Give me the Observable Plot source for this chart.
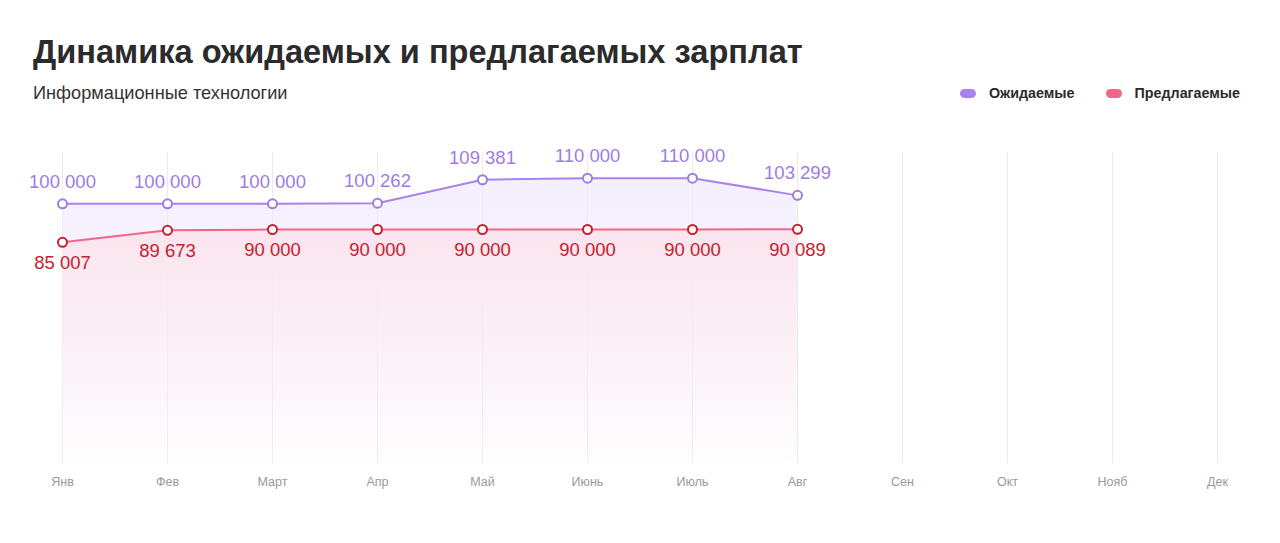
<!DOCTYPE html>
<html>
<head>
<meta charset="utf-8">
<script src="https://cdn.jsdelivr.net/npm/d3@7"></script>
<script src="https://cdn.jsdelivr.net/npm/@observablehq/plot@0.6"></script>
<style>
  html, body { margin: 0; padding: 0; background: #fff; width: 1280px; height: 543px; overflow: hidden; }
  body { position: relative; font-family: "Liberation Sans", Arial, Helvetica, sans-serif; }
  #title { position: absolute; left: 33px; top: 33px; font-size: 32.6px; line-height: 38px; font-weight: bold; color: #2b2b2b; white-space: nowrap; }
  #subtitle { position: absolute; left: 33px; top: 83px; font-size: 18.2px; line-height: 21px; color: #333; white-space: nowrap; }
  #legend { position: absolute; right: 40px; top: 84px; font-size: 14.3px; line-height: 18px; font-weight: bold; color: #2b2b2b; display: flex; gap: 0; white-space: nowrap; }
  .item { display: flex; align-items: center; margin-left: 31px; }
  .sw { display: inline-block; width: 16px; height: 9px; border-radius: 5px; margin-right: 13px; }
  #chart { position: absolute; left: 33px; top: 120px; }
  #chart svg { overflow: visible; }
</style>
</head>
<body>
<div id="title">Динамика ожидаемых и предлагаемых зарплат</div>
<div id="subtitle">Информационные технологии</div>
<div id="legend"></div>
<div id="chart"></div>
<script>
const months = ["Янв", "Фев", "Март", "Апр", "Май", "Июнь", "Июль", "Авг", "Сен", "Окт", "Нояб", "Дек"];
const expected = [100000, 100000, 100000, 100262, 109381, 110000, 110000, 103299];
const offered = [85007, 89673, 90000, 90000, 90000, 90000, 90000, 90089];
const seriesNames = ["Ожидаемые", "Предлагаемые"];
const lineColors = ["#a784ec", "#f0668a"];
const dotColors = ["#a07de6", "#c5202d"];
const labelColors = ["#9d7de3", "#c8202f"];

const fmt = v => d3.format(",")(v).replace(/,/g, " ");

const expData = expected.map((v, i) => ({month: months[i], value: v}));
const offData = offered.map((v, i) => ({month: months[i], value: v}));

// legend
const legend = document.getElementById("legend");
seriesNames.forEach((name, i) => {
  const it = document.createElement("div");
  it.className = "item";
  it.innerHTML = `<span class="sw" style="background:${lineColors[i]}"></span><span>${name}</span>`;
  legend.appendChild(it);
});

function defs() {
  const ns = "http://www.w3.org/2000/svg";
  const d = document.createElementNS(ns, "defs");
  const mk = (id, stops) => {
    const g = document.createElementNS(ns, "linearGradient");
    g.setAttribute("id", id);
    g.setAttribute("x1", "0"); g.setAttribute("y1", "0");
    g.setAttribute("x2", "0"); g.setAttribute("y2", "1");
    stops.forEach(([o, c, op]) => {
      const s = document.createElementNS(ns, "stop");
      s.setAttribute("offset", o);
      s.setAttribute("stop-color", c);
      s.setAttribute("stop-opacity", op);
      g.appendChild(s);
    });
    d.appendChild(g);
  };
  mk("gradPurple", [["0", "#efe8fc", 0.7], ["1", "#efe8fc", 0.0]]);
  mk("gradRed", [["0", "#fbe4ed", 1], ["1", "#fdf3f7", 0.2]]);
  return d;
}

const W = 1214, H = 400;
const chart = Plot.plot({
  width: W,
  height: H,
  marginLeft: 29,
  marginRight: 30,
  marginTop: 32,
  marginBottom: 57,
  insetBottom: 3,
  style: {fontFamily: "'Liberation Sans', Arial, Helvetica, sans-serif", background: "transparent", overflow: "visible"},
  x: {type: "point", domain: months, padding: 0},
  y: {domain: [0, 120000], axis: null},
  marks: [
    defs,
    Plot.gridX({stroke: "#ebebeb", strokeOpacity: 1, strokeWidth: 1}),
    Plot.axisX({tickSize: 0, tickPadding: 14, fontSize: 12.5, fill: "#9a9a9a", label: null}),
    Plot.areaY(expData, {x: "month", y: "value", fill: "url(#gradPurple)"}),
    Plot.areaY(offData, {x: "month", y: "value", fill: "url(#gradRed)"}),
    Plot.lineY(expData, {x: "month", y: "value", stroke: lineColors[0], strokeWidth: 2}),
    Plot.lineY(offData, {x: "month", y: "value", stroke: lineColors[1], strokeWidth: 2}),
    Plot.dot(expData, {x: "month", y: "value", r: 4.5, fill: "#fff", stroke: dotColors[0], strokeWidth: 2}),
    Plot.dot(offData, {x: "month", y: "value", r: 4.5, fill: "#fff", stroke: dotColors[1], strokeWidth: 2}),
    Plot.text(expData, {x: "month", y: "value", text: d => fmt(d.value), dy: -22, fontSize: 18.5, fill: labelColors[0], lineAnchor: "middle"}),
    Plot.text(offData, {x: "month", y: "value", text: d => fmt(d.value), dy: 21, fontSize: 18.5, fill: labelColors[1], lineAnchor: "middle"})
  ]
});
document.getElementById("chart").appendChild(chart);
</script>
</body>
</html>
